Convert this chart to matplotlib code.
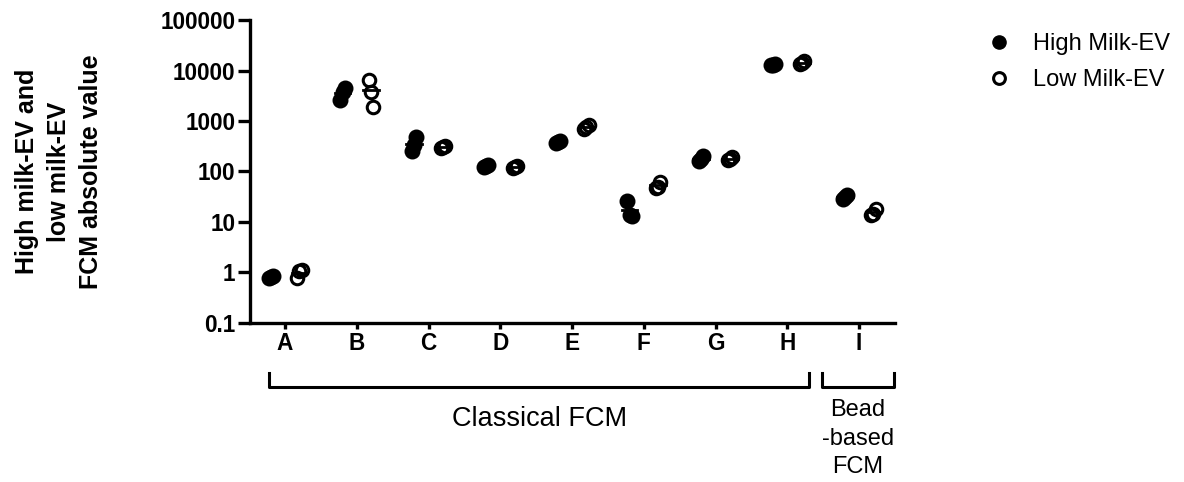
import numpy as np
import matplotlib.pyplot as plt
from matplotlib.lines import Line2D

plt.rcParams['font.family'] = ['Liberation Sans', 'DejaVu Sans']

# Data (3 replicates per group)
categories = ['A', 'B', 'C', 'D', 'E', 'F', 'G', 'H', 'I']
high_ev = [
    [0.78, 0.82, 0.86],
    [2600, 3700, 4600],
    [250, 340, 480],
    [125, 130, 136],
    [370, 380, 395],
    [25.5, 13.5, 13.0],
    [160, 178, 200],
    [12800, 13100, 13600],
    [28, 31, 34],
]
low_ev = [
    [0.78, 1.05, 1.12],
    [6500, 3800, 1900],
    [290, 300, 320],
    [115, 122, 130],
    [690, 760, 830],
    [47, 50, 62],
    [170, 180, 192],
    [13300, 14400, 15200],
    [13.5, 14.5, 18.5],
]
group_labels = ['Classical FCM', 'Bead\n-based\nFCM']
legend_labels = ['High Milk-EV', 'Low Milk-EV']

fig = plt.figure(figsize=(11.84, 4.82), dpi=100)
ax = fig.add_axes([0.2111, 0.3299, 0.7559 - 0.2111, 0.9585 - 0.3299])

offset = 0.2
jitter = [-0.03, 0.0, 0.03]
for i, (hv, lv) in enumerate(zip(high_ev, low_ev)):
    xh = [i - offset + j for j in jitter]
    xl = [i + offset + j for j in jitter]
    ax.plot([i - offset - 0.11, i - offset + 0.11], [np.mean(hv)] * 2, color='black', lw=2)
    ax.plot([i + offset - 0.11, i + offset + 0.11], [np.mean(lv)] * 2, color='black', lw=2)
    ax.plot(xh, hv, 'o', ms=10, mfc='black', mec='black', mew=1.5, ls='none')
    ax.plot(xl, lv, 'o', ms=9, mfc='none', mec='black', mew=2.2, ls='none')

ax.set_yscale('log')
ax.set_ylim(0.1, 100000)
ax.set_xlim(-0.49, 8.5)
ax.set_yticks([0.1, 1, 10, 100, 1000, 10000, 100000])
ax.set_yticklabels(['0.1', '1', '10', '100', '1000', '10000', '100000'])
ax.minorticks_off()
ax.set_xticks(range(len(categories)))
ax.set_xticklabels(categories)
for lab in ax.get_xticklabels() + ax.get_yticklabels():
    lab.set_fontweight('bold')
    lab.set_fontsize(16.3)

for s in ['top', 'right']:
    ax.spines[s].set_visible(False)
for s in ['left', 'bottom']:
    ax.spines[s].set_linewidth(2.4)
ax.tick_params(axis='y', width=2.4, length=8.5, color='black', pad=2)
ax.tick_params(axis='x', width=2.4, length=4, color='black', pad=2.5)

ax.set_ylabel('High milk-EV and\nlow milk-EV\nFCM absolute value',
              fontsize=18, fontweight='bold', linespacing=1.4)
ax.yaxis.label.set_va('center')
ax.yaxis.set_label_coords(-0.296, 0.5)

# group brackets below the x axis
trans = ax.get_xaxis_transform()
brackets = [(-0.22, 7.3), (7.48, 8.48)]
label_y = [-0.275, -0.25]
label_size = [19.5, 17]
for (x0, x1), lab, ly, fs in zip(brackets, group_labels, label_y, label_size):
    ax.plot([x0, x0, x1, x1], [-0.165, -0.211, -0.211, -0.165], color='black',
            lw=2.2, transform=trans, clip_on=False)
    ax.text((x0 + x1) / 2, ly, lab, transform=trans, ha='center', va='top',
            fontsize=fs, linespacing=1.4)

handles = [
    Line2D([], [], marker='o', ls='none', ms=9.5, mfc='black', mec='black'),
    Line2D([], [], marker='o', ls='none', ms=8.5, mfc='none', mec='black', mew=2.2),
]
fig.legend(handles, legend_labels, loc='upper left', bbox_to_anchor=(0.806, 0.975),
           frameon=False, fontsize=17, handletextpad=0.45, labelspacing=0.6)

fig.savefig('out.png', dpi=100)
